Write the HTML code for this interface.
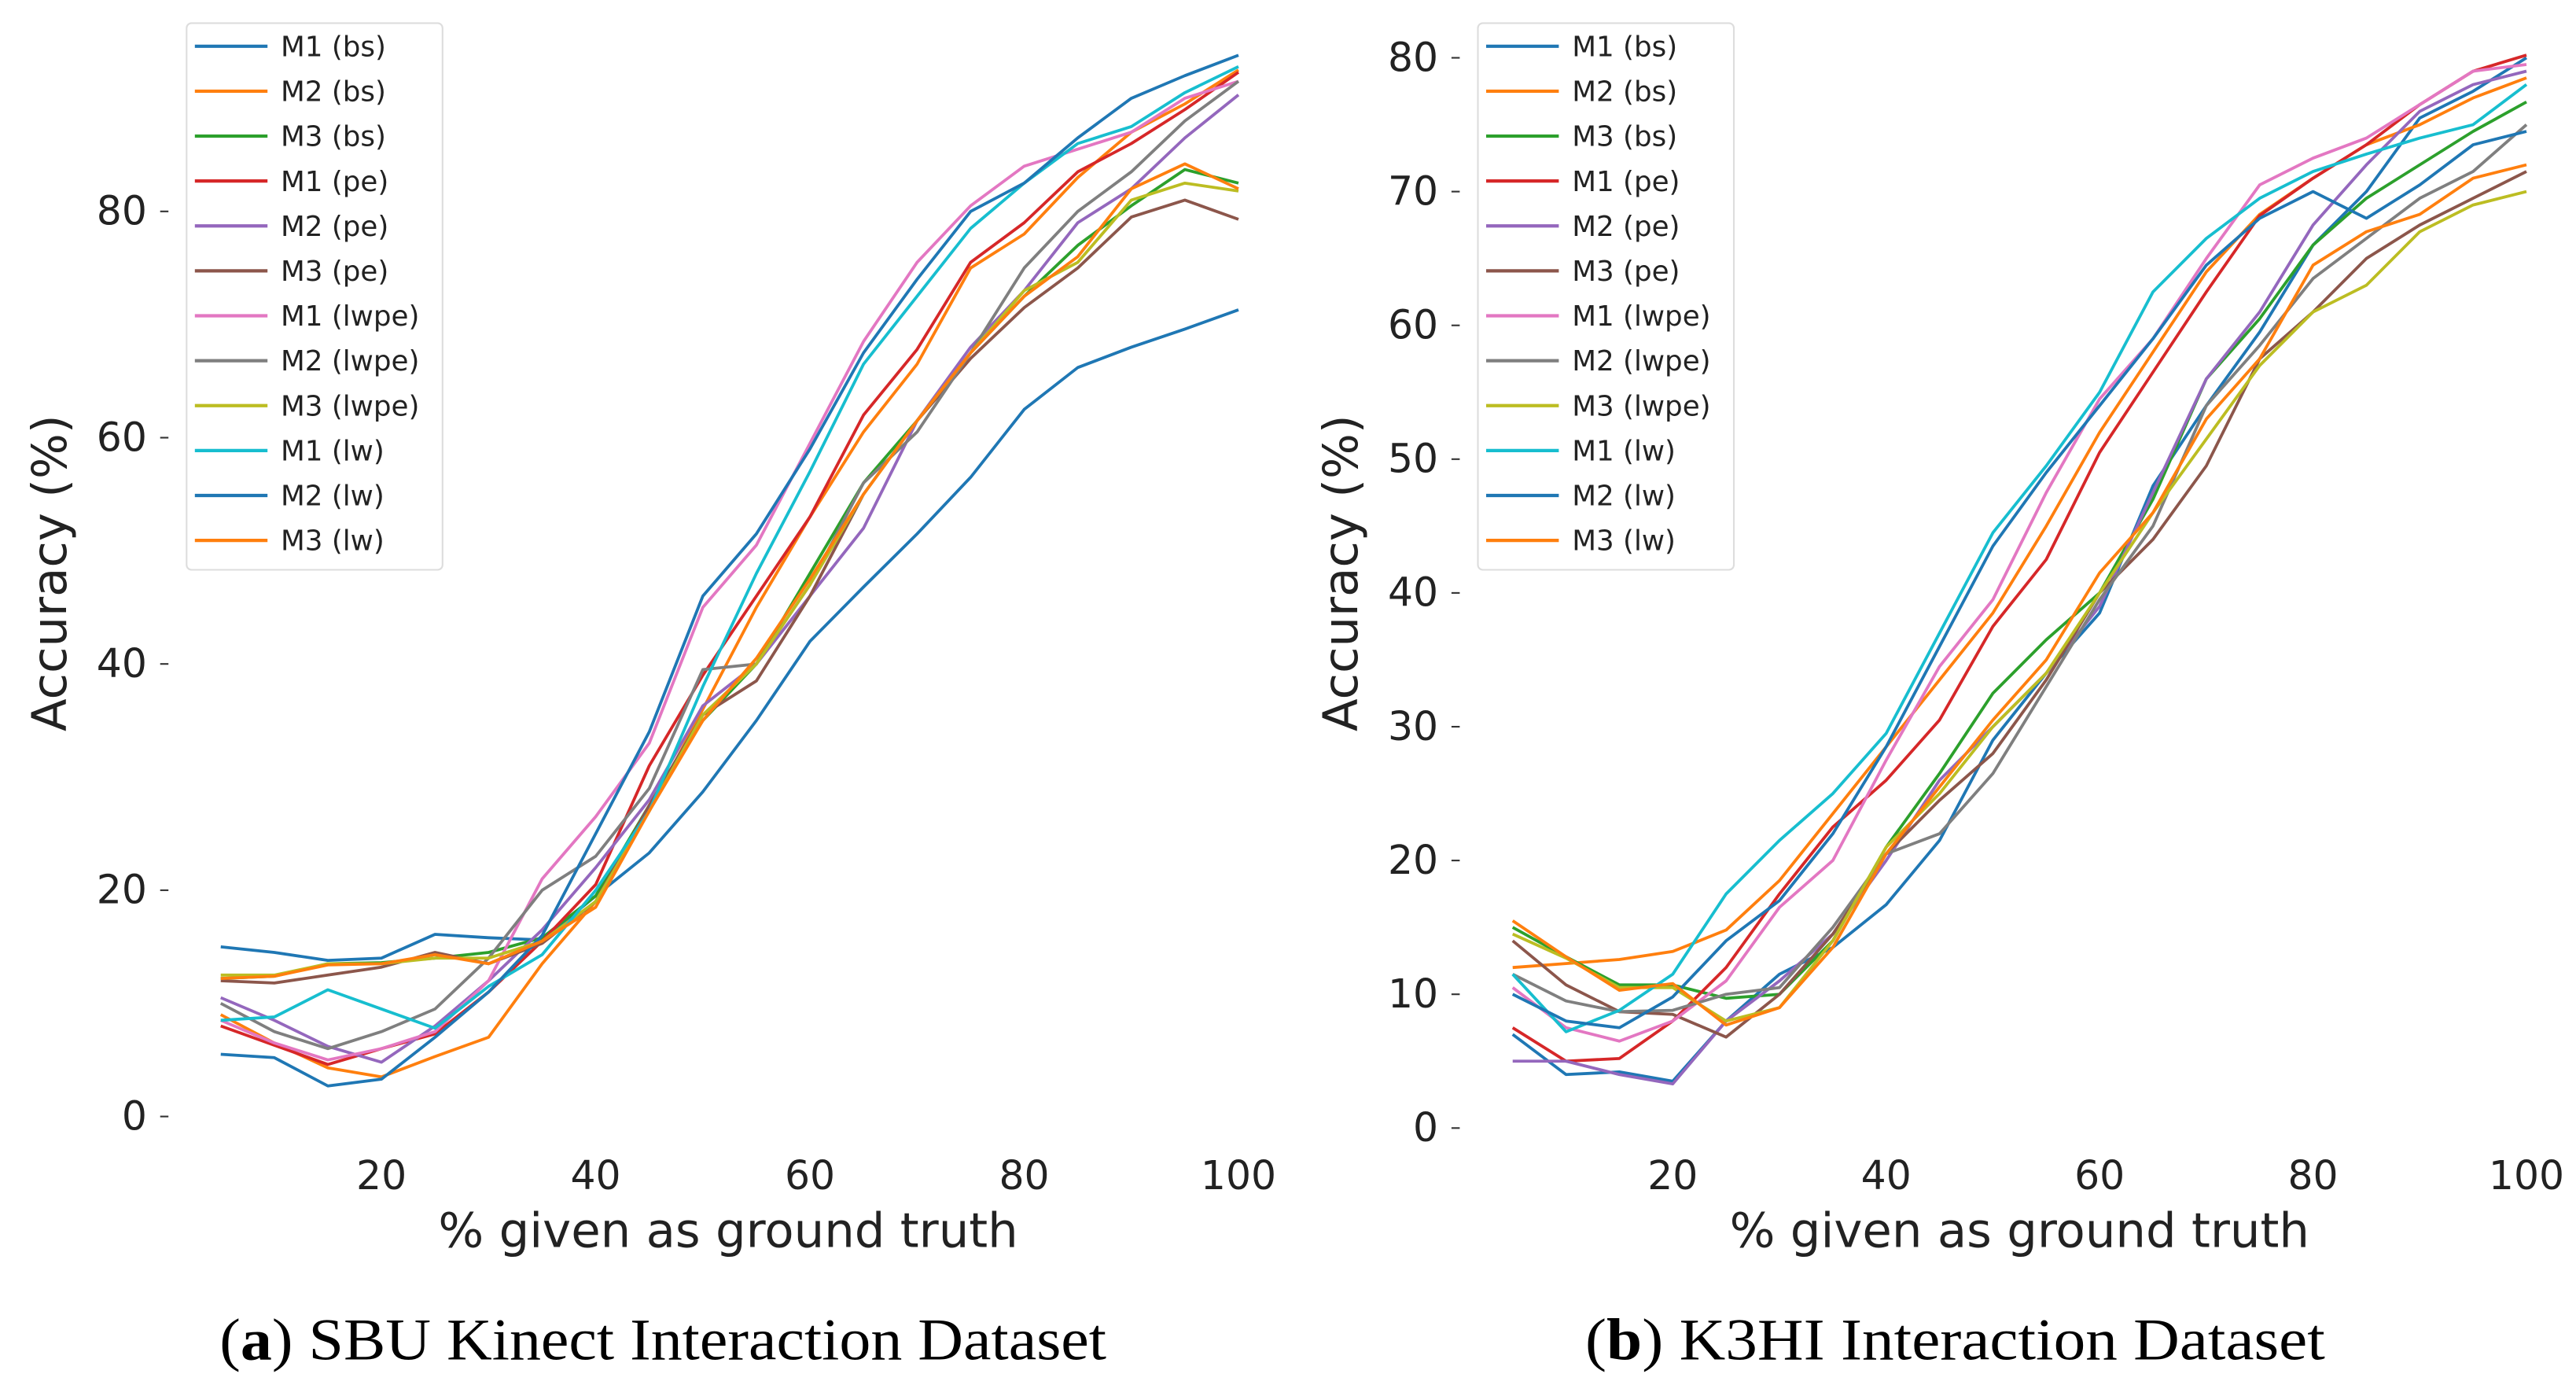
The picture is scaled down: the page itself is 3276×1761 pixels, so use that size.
<!DOCTYPE html>
<html><head><meta charset="utf-8"><style>
html,body{margin:0;padding:0;background:#fff;}
svg{display:block;}
</style></head><body>
<svg id="fig" width="3276" height="1761" viewBox="0 0 1560 838.57" xmlns="http://www.w3.org/2000/svg">
<rect width="1560" height="838.57" fill="#fff"/>
<g id="chartA"></g>
<g id="chartB"></g>
<text x="133" y="823" textLength="537" lengthAdjust="spacingAndGlyphs" font-family="Liberation Serif, serif" font-size="36">(<tspan font-weight="bold">a</tspan>) SBU Kinect Interaction Dataset</text>
<text x="960" y="823" textLength="448" lengthAdjust="spacingAndGlyphs" font-family="Liberation Serif, serif" font-size="36">(<tspan font-weight="bold">b</tspan>) K3HI Interaction Dataset</text>
</svg>
<script>
const xs = [5,10,15,20,25,30,35,40,45,50,55,60,65,70,75,80,85,90,95,100];
const names = ["M1 (bs)","M2 (bs)","M3 (bs)","M1 (pe)","M2 (pe)","M3 (pe)","M1 (lwpe)","M2 (lwpe)","M3 (lwpe)","M1 (lw)","M2 (lw)","M3 (lw)"];
const colors = ["#1f77b4","#ff7f0e","#2ca02c","#d62728","#9467bd","#8c564b","#e377c2","#7f7f7f","#bcbd22","#17becf","#1f77b4","#ff7f0e"];
const xTicks = [20,40,60,80,100];
const yTicksA = [0,20,40,60,80];
const yTicksB = [0,10,20,30,40,50,60,70,80];
const a_m1bs = [15,14.5,13.8,14,16.1,15.8,15.6,19.5,23.3,28.7,35,42,46.8,51.5,56.5,62.5,66.2,68,69.6,71.3];
const a_m2bs = [9,6.5,4.3,3.5,5.3,7,13.5,19,27,36,45,53,60.5,66.5,75,78,83,87,89.5,92.5];
const a_m3bs = [12.2,12.4,13.5,13.6,14,14.5,15.8,19.5,27.5,35,40,48,56,61.5,67.5,72.5,77,80.5,83.7,82.5];
const a_m1pe = [8,6.3,4.6,6,7.3,11,15.5,20.5,31,39,46,53,62,67.8,75.5,79,83.5,86,89,92.3];
const a_m2pe = [10.5,8.5,6.2,4.8,8,12,16.5,22,28,36.3,40,46,52,61.5,68,73,79,82,86.5,90.3];
const a_m3pe = [12,11.8,12.5,13.2,14.5,13.5,15.3,19,27.5,35.5,38.5,46,55,61.5,67,71.5,75,79.5,81,79.3];
const a_m1lwpe = [8.5,6.5,5,6,7.5,12,21,26.5,33,45,50.5,59.5,68.5,75.5,80.5,84,85.5,87,90,91.5];
const a_m2lwpe = [10,7.5,6,7.5,9.5,14,20,23,29,39.5,40,47,56,60.5,67.5,75,80,83.5,88,91.5];
const a_m3lwpe = [12.5,12.5,13.5,13.5,14,14,15.5,19,27,35.5,40,47,55,61.5,67.5,73,75.5,81,82.5,81.8];
const a_m1lw = [8.5,8.8,11.2,9.5,7.8,11.5,14.3,20,27,38,48,57,66.5,72.5,78.5,82.5,86,87.5,90.5,92.8];
const a_m2lw = [5.5,5.2,2.7,3.3,7,11,16,25,34,46,51.5,59,67.5,74,80,82.5,86.5,90,92,93.8];
const a_m3lw = [12.2,12.4,13.4,13.5,14.3,13.5,15.5,18.5,27,35,40.5,47.5,55,61.5,67.5,72.5,76,82,84.2,82];
const b_m1bs = [7,4,4.2,3.5,8,11.5,13.5,16.7,21.5,29,34,38.5,48,54,59.5,66,70,75.5,77.5,80];
const b_m2bs = [12,12.3,12.6,13.2,14.8,18.5,23.5,28.5,33.5,38.5,45,52,58,64,68.3,71,73.5,75,77,78.5];
const b_m3bs = [15,12.8,10.7,10.7,9.7,10,14,21,26.5,32.5,36.5,40,47,56,60.5,66,69.5,72,74.5,76.7];
const b_m1pe = [7.5,5,5.2,8,12,17.5,22.5,26,30.5,37.5,42.5,50.5,56.5,62.5,68.2,71,73.5,76.5,79,80.2];
const b_m2pe = [5,5,4,3.3,8,11,14.5,20,26,30,34,39,47.5,56,61,67.5,72,76,78,79];
const b_m3pe = [14,10.7,8.7,8.5,6.8,10,14.5,20.5,24.5,28,33.5,40,44,49.5,57.5,61,65,67.5,69.5,71.5];
const b_m1lwpe = [10.5,7.5,6.5,8,11,16.5,20,27.5,34.5,39.5,47.5,54.5,59,65,70.5,72.5,74,76.5,79,79.5];
const b_m2lwpe = [11.5,9.5,8.7,8.8,10,10.5,15,20.5,22,26.5,33,39.5,45,54,58.5,63.5,66.5,69.5,71.5,75];
const b_m3lwpe = [14.5,12.7,10.5,10.5,8,9,14,21,25,30,34,40,46,51.5,57,61,63,67,69,70];
const b_m1lw = [11.5,7.2,8.8,11.5,17.5,21.5,25,29.5,37,44.5,49.5,55,62.5,66.5,69.5,71.5,72.8,74,75,78];
const b_m2lw = [10,8,7.5,9.8,14,17,22,28.5,36,43.5,49,54,59,64.5,68,70,68,70.5,73.5,74.5];
const b_m3lw = [15.5,12.8,10.3,10.8,7.7,9,13.5,20.5,25.5,30.5,35,41.5,46,53,57.5,64.5,67,68.3,71,72];
const seriesA = [a_m1bs,a_m2bs,a_m3bs,a_m1pe,a_m2pe,a_m3pe,a_m1lwpe,a_m2lwpe,a_m3lwpe,a_m1lw,a_m2lw,a_m3lw];
const seriesB = [b_m1bs,b_m2bs,b_m3bs,b_m1pe,b_m2pe,b_m3pe,b_m1lwpe,b_m2lwpe,b_m3lwpe,b_m1lw,b_m2lw,b_m3lw];
const NS="http://www.w3.org/2000/svg";
function mk(tag, attrs, parent){const e=document.createElementNS(NS,tag);for(const k in attrs)e.setAttribute(k,attrs[k]);parent.appendChild(e);return e;}
function draw(g, cfg, series, yTicks){
  const X=v=>cfg.x20+(v-20)*(cfg.x100-cfg.x20)/80;
  const Y=v=>cfg.y0-(v)*(cfg.y0-cfg.yTop)/cfg.yTopVal;
  const font='DejaVu Sans, Liberation Sans, sans-serif';
  yTicks.forEach(t=>{
    const tk=mk('line',{x1:cfg.tickX,x2:cfg.tickX+5,y1:Y(t),y2:Y(t),stroke:'#333','stroke-width':1},g);
    
    
    const tl=mk('text',{x:cfg.tickX-8,y:Y(t)+8,'text-anchor':'end','font-family':font,'font-size':24,fill:'#222'},g);
    tl.textContent=t;
    
    
  });
  xTicks.forEach(t=>{
    const tl=mk('text',{x:X(t),y:cfg.xLabY,'text-anchor':'middle','font-family':font,'font-size':24,fill:'#222'},g);
    tl.textContent=t;
    
    
  });
  const xt=mk('text',{x:cfg.xTitleX,y:cfg.xLabY+35,'text-anchor':'middle','font-family':font,'font-size':29,fill:'#222'},g);
  xt.textContent='% given as ground truth';
  
  
  const yt=mk('text',{x:0,y:0,'text-anchor':'middle','font-family':font,'font-size':29,fill:'#222',transform:`translate(${cfg.yTitleX},347) rotate(-90)`},g);
  yt.textContent='Accuracy (%)';
  
  
  series.forEach((s,i)=>{
    const d=s.map((v,j)=>(j?'L':'M')+X(xs[j]).toFixed(2)+','+Y(v).toFixed(2)).join(' ');
    const p=mk('path',{d:d,fill:'none',stroke:colors[i],'stroke-width':1.8,'stroke-linejoin':'round'},g);
    
    
  });
  const lg=mk('g',{},g);
  
  
  mk('rect',{x:cfg.legX,y:14,width:155,height:331,rx:3,fill:'#fff','fill-opacity':0.85,stroke:'#ddd','stroke-width':1},lg);
  names.forEach((n,i)=>{
    const yy=28+i*27.2;
    const ln=mk('line',{x1:cfg.legX+5,x2:cfg.legX+49,y1:yy,y2:yy,stroke:colors[i],'stroke-width':2},lg);
    
    
    const tx=mk('text',{x:cfg.legX+57,y:yy+6,'font-family':font,'font-size':17,fill:'#222'},lg);
    tx.textContent=n;
    
    
  });
}
draw(document.getElementById('chartA'),{x20:231,x100:750,y0:676,yTop:128,yTopVal:80,tickX:97,xLabY:720,xTitleX:441,yTitleX:40,legX:113},seriesA,yTicksA);
draw(document.getElementById('chartB'),{x20:1013,x100:1530,y0:683,yTop:35,yTopVal:80,tickX:879,xLabY:720,xTitleX:1223,yTitleX:822,legX:895},seriesB,yTicksB);
</script>
</body></html>
